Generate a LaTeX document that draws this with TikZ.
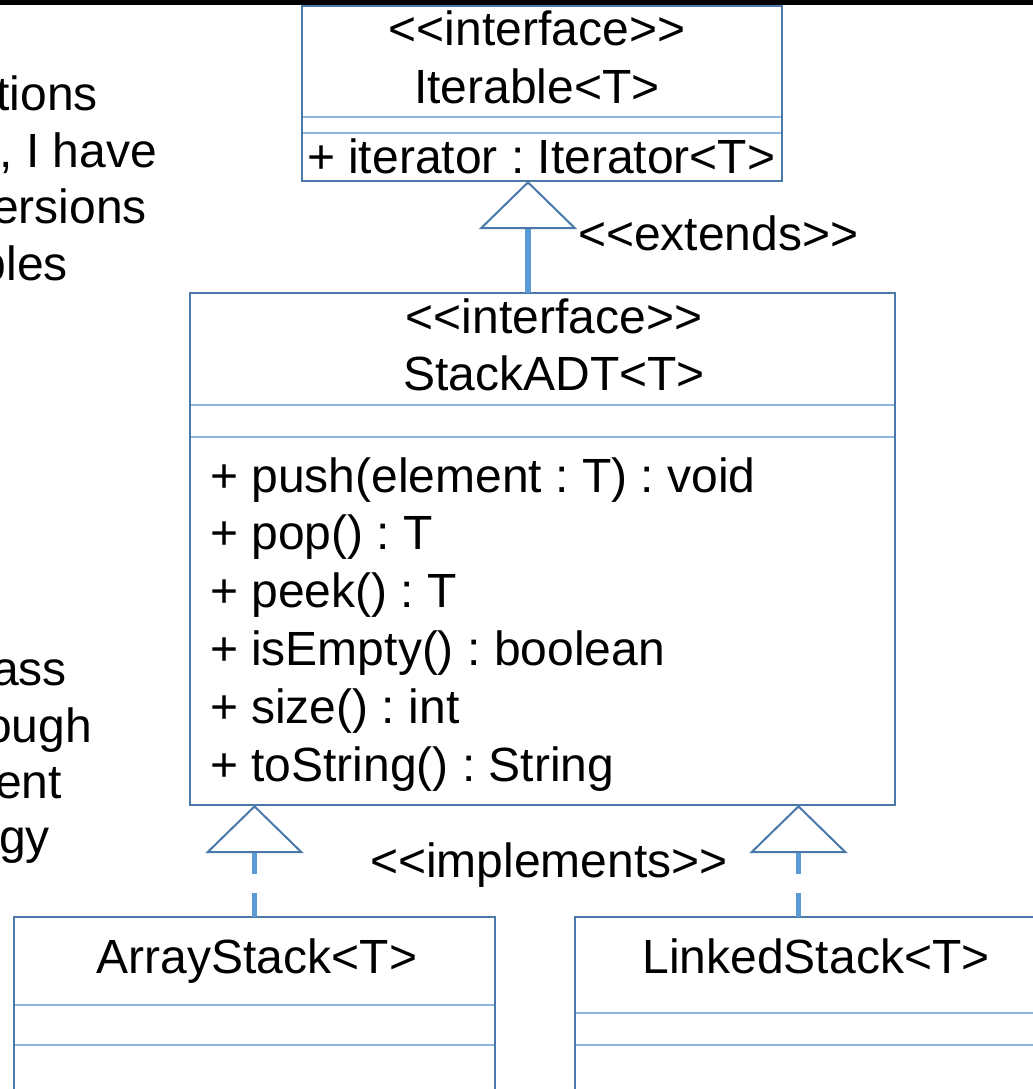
\documentclass[tikz,border=0pt]{standalone}
\usepackage{fontspec}
\setmainfont{Liberation Sans}
\usetikzlibrary{arrows.meta}
\definecolor{boxblue}{HTML}{4A78AA}
\definecolor{sepblue}{HTML}{8DB4E2}
\definecolor{linkblue}{HTML}{5B9BD5}
\newcommand{\stereo}[1]{<{}<#1>{}>}
\tikzset{
  classbox/.style={draw=boxblue, line width=1.25pt, rectangle, inner sep=0pt, outer sep=0pt, fill=white},
  sepline/.style={draw=sepblue, line width=1pt},
  txt/.style={inner sep=0pt, outer sep=0pt, font=\fontsize{24pt}{28pt}\selectfont\frenchspacing},
  gen/.style={draw=linkblue, line width=2.75pt,
    -{Triangle[length=24pt, width=49pt, color=boxblue, fill=white, line width=1pt 0]}},
  realize/.style={gen, dash pattern=on 12pt off 9.5pt},
}
\begin{document}
\begin{tikzpicture}[x=0.5pt, y=-0.5pt]
  \useasboundingbox (0,0) rectangle (1033,1089);
  \clip (0,0) rectangle (1033,1089);
  \fill[white] (0,0) rectangle (1033,1089);

  % class boxes
  \node[classbox, minimum width=240pt, minimum height=87.5pt] (iter) at (542,93.5) {};
  \node[classbox, minimum width=352.5pt, minimum height=256pt] (stack) at (542.5,549) {};
  \node[classbox, minimum width=240.5pt, minimum height=111.5pt] (astack) at (254.5,1028.5) {};
  \node[classbox, minimum width=240.5pt, minimum height=111.5pt] (lstack) at (815.5,1028.5) {};

  % compartment separators
  \foreach \b/\y in {iter/117, iter/133, stack/405, stack/437,
                     astack/1005, astack/1045, lstack/1013, lstack/1045} {
    \draw[sepline] ([xshift=0.6pt]\b.west |- 0,\y) -- ([xshift=-0.6pt]\b.east |- 0,\y);
  }

  % strip along the top edge
  \fill[black] (0,0) rectangle (1033,4.5);

  % Iterable<T>
  \node[txt, anchor=base] (iterst) at (537,45) {\stereo{interface}};
  \node[txt, anchor=base] (itername) at (537,103) {Iterable<T>};
  \node[txt, anchor=base west] (iterop) at (307,173) {+ iterator : Iterator<T>};

  % StackADT<T>
  \node[txt, anchor=base] (stackst) at (554,333) {\stereo{interface}};
  \node[txt, anchor=base] (stackname) at (554,390) {StackADT<T>};
  \node[txt, anchor=base west] (op1) at (210,492) {+ push(element : T) : void};
  \node[txt, anchor=base west] (op2) at (210,549.8) {+ pop() : T};
  \node[txt, anchor=base west] (op3) at (210,607.6) {+ peek() : T};
  \node[txt, anchor=base west] (op4) at (210,665.4) {+ isEmpty() : boolean};
  \node[txt, anchor=base west] (op5) at (210,723.2) {+ size() : int};
  \node[txt, anchor=base west] (op6) at (210,781) {+ toString() : String};

  % implementing classes
  \node[txt, anchor=base] (aname) at (257,973) {ArrayStack<T>};
  \node[txt, anchor=base] (lname) at (816,973) {LinkedStack<T>};

  % relationships
  \coordinate (extx) at (528,0);
  \coordinate (rimpx) at (798.5,0);
  \draw[gen] (extx |- stack.north) -- (extx |- iter.south);
  \draw[realize] (astack.north) -- (astack.north |- stack.south);
  \draw[realize] (rimpx |- lstack.north) -- (rimpx |- stack.south);

  \node[txt, anchor=base west] (extlbl) at (578,250) {\stereo{extends}};
  \node[txt, anchor=base west] (implbl) at (370,877) {\stereo{implements}};

  % slide text along the left edge
  \node[txt, anchor=base east] (l1) at (98,110) {tions};
  \node[txt, anchor=base east] (l2) at (157,167) {, I have};
  \node[txt, anchor=base east] (l3) at (147,223) {ersions};
  \node[txt, anchor=base east] (l4) at (68,280) {bles};
  \node[txt, anchor=base east] (l5) at (67,685) {ass};
  \node[txt, anchor=base east] (l6) at (92,742) {ough};
  \node[txt, anchor=base east] (l7) at (62,798) {ent};
  \node[txt, anchor=base east] (l8) at (50,853) {gy};
\end{tikzpicture}
\end{document}
